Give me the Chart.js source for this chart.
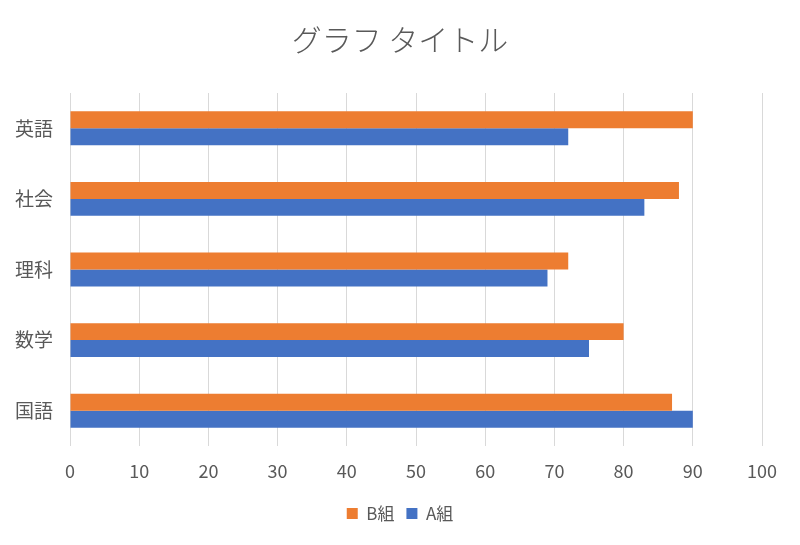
<!DOCTYPE html>
<html>
<head>
<meta charset="utf-8">
<script src="https://cdn.jsdelivr.net/npm/chart.js@4"></script>
<style>
html,body{margin:0;padding:0;background:#fff;}
#wrap{width:800px;height:545px;}
</style>
</head>
<body>
<div id="wrap"><canvas id="c" width="800" height="545"></canvas></div>
<script>
const categories = ["英語", "社会", "理科", "数学", "国語"];
const groupB = [90, 88, 72, 80, 87];
const groupA = [72, 83, 69, 75, 90];
const seriesNames = ["B組", "A組"];
const xTicks = [0, 10, 20, 30, 40, 50, 60, 70, 80, 90, 100];

const FONT = "'Noto Sans CJK JP', 'Noto Sans', sans-serif";

new Chart(document.getElementById('c'), {
  type: 'bar',
  data: {
    labels: categories,
    datasets: [
      { label: seriesNames[0], data: groupB, backgroundColor: '#ED7D31', borderWidth: 0 },
      { label: seriesNames[1], data: groupA, backgroundColor: '#4472C4', borderWidth: 0 }
    ]
  },
  options: {
    indexAxis: 'y',
    responsive: false,
    animation: false,
    devicePixelRatio: 1,
    categoryPercentage: 0.48,
    barPercentage: 1.0,
    layout: { padding: { left: 0, right: 0, top: 0, bottom: 13 } },
    scales: {
      x: {
        min: 0, max: 100,
        afterBuildTicks: (s) => { s.ticks = xTicks.map(v => ({ value: v })); },
        afterFit: (s) => { s.height = 47; },
        border: { display: false },
        grid: { color: '#d9d9d9', lineWidth: 1, drawTicks: false },
        ticks: { color: '#595959', font: { family: FONT, size: 18 }, padding: 14 }
      },
      y: {
        afterFit: (s) => { s.width = 70; },
        border: { display: false },
        grid: { display: false, drawTicks: false },
        ticks: { color: '#595959', font: { family: FONT, size: 19 }, padding: 17 }
      },
      yR: {
        type: 'category',
        position: 'right',
        labels: categories,
        afterFit: (s) => { s.width = 38; },
        border: { display: false },
        grid: { display: false, drawTicks: false },
        ticks: { display: false }
      }
    },
    plugins: {
      title: {
        display: true,
        text: 'グラフ タイトル',
        color: '#595959',
        font: { family: FONT, size: 30, weight: '300' },
        padding: { top: 22, bottom: 35 }
      },
      legend: {
        position: 'bottom',
        labels: {
          color: '#595959',
          font: { family: FONT, size: 17 },
          boxWidth: 11, boxHeight: 11,
          padding: 12
        }
      },
      tooltip: { enabled: false }
    }
  }
});
</script>
</body>
</html>
